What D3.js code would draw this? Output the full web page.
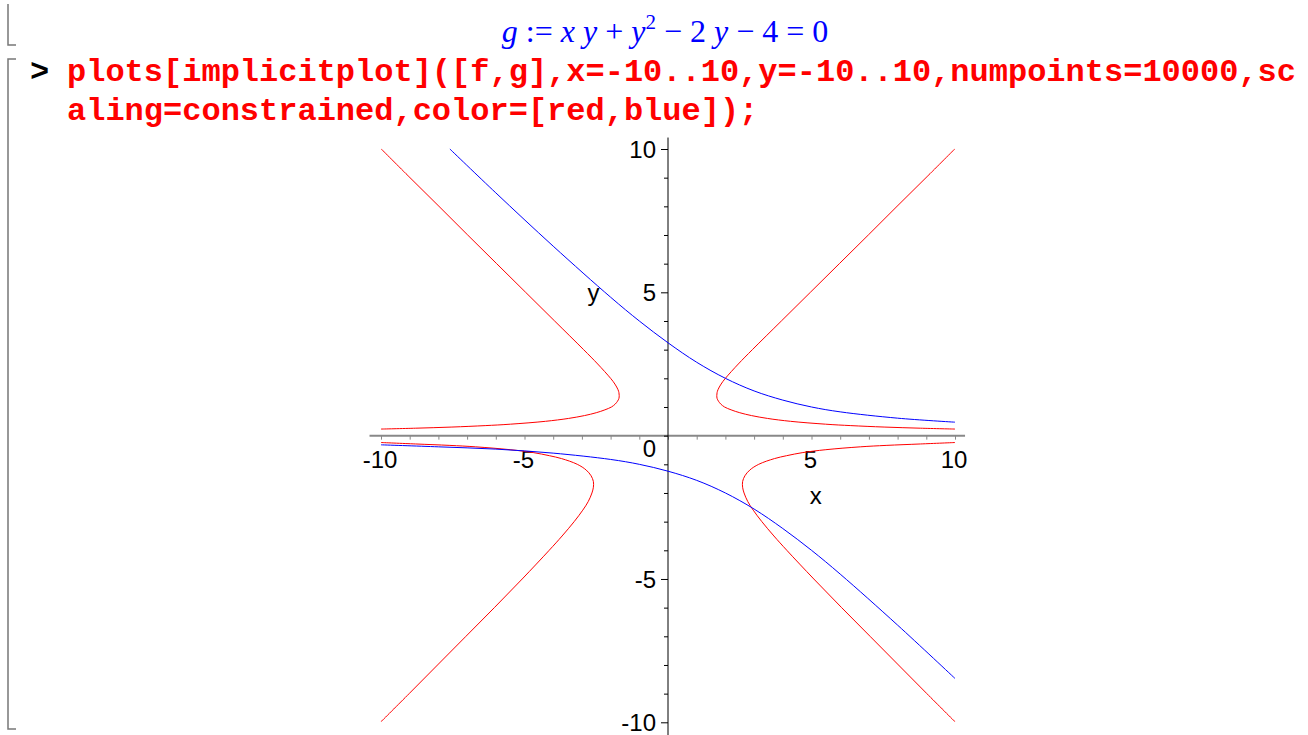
<!DOCTYPE html>
<html>
<head>
<meta charset="utf-8">
<script src="https://cdn.jsdelivr.net/npm/d3@7"></script>
<style>
  body { margin: 0; background: #fff; }
  svg { display: block; }
</style>
</head>
<body>
<svg width="1308" height="735"></svg>
<script>
// worksheet text
const eqParts = [
    {t:'g', it:true}, {t:' := '}, {t:'x', it:true}, {t:' '}, {t:'y', it:true}, {t:' + '},
    {t:'y', it:true}, {t:'2', sup:true}, {t:' \u2212 2 '}, {t:'y', it:true}, {t:' \u2212 4 = 0'}
];
const cmdLines = [
    'plots[implicitplot]([f,g],x=-10..10,y=-10..10,numpoints=10000,sc',
    'aling=constrained,color=[red,blue]);'
];

// tick labels
const xTickLabels = [-10, -5, 5, 10];
const yTickLabels = [-10, -5, 5, 10];
const minorTicks = d3.range(-10, 11);

// curves, [x, y]
const redUpperRight = [[10,0.23],[8.79,0.26],[7.53,0.3],[6.37,0.35],[5.49,0.4],[4.27,0.5],[3.47,0.6],[2.91,0.7],
    [2.5,0.8],[2.2,0.9],[1.97,1.0],[1.84,1.1],[1.76,1.2],[1.71,1.3],[1.7,1.4],[1.71,1.5],[1.74,1.6],[1.85,1.8],
    [2,2],[2.45,2.5],[2.94,3],[3.95,4],[4.96,5],[5.97,6],[6.98,7],[7.98,8],[8.99,9],[9.99,10]];
const redUpperLeft = [[-10,0.23],[-8.79,0.26],[-7.53,0.3],[-6.37,0.35],[-5.49,0.4],[-4.27,0.5],[-3.47,0.6],[-2.91,0.7],
    [-2.5,0.8],[-2.2,0.9],[-1.97,1.0],[-1.84,1.1],[-1.76,1.2],[-1.71,1.3],[-1.7,1.4],[-1.71,1.5],[-1.74,1.6],[-1.85,1.8],
    [-2,2],[-2.45,2.5],[-2.94,3],[-3.95,4],[-4.96,5],[-5.97,6],[-6.98,7],[-7.98,8],[-8.99,9],[-9.99,10]];
const redLowerRight = [[10,-0.24],[8.8,-0.29],[7.6,-0.34],[6.7,-0.39],[5.5,-0.49],[4.7,-0.59],[4.13,-0.7],[3.71,-0.8],
    [3.16,-1.0],[2.85,-1.2],[2.68,-1.4],[2.6,-1.6],[2.6,-1.8],[2.65,-2.0],[2.78,-2.3],[2.97,-2.6],[3.27,-3],
    [3.69,-3.5],[4.14,-4],[5.08,-5],[6.05,-6],[7.04,-7],[8.03,-8],[9.02,-9],[10,-9.98]];
const redLowerLeft = [[-10,-0.24],[-8.8,-0.29],[-7.6,-0.34],[-6.7,-0.39],[-5.5,-0.49],[-4.7,-0.59],[-4.13,-0.7],[-3.71,-0.8],
    [-3.16,-1.0],[-2.85,-1.2],[-2.68,-1.4],[-2.6,-1.6],[-2.6,-1.8],[-2.65,-2.0],[-2.78,-2.3],[-2.97,-2.6],[-3.27,-3],
    [-3.69,-3.5],[-4.14,-4],[-5.08,-5],[-6.05,-6],[-7.04,-7],[-8.03,-8],[-9.02,-9],[-10,-9.98]];
const blueUpper = [[-7.6,10],[-6,8.47],[-4,6.61],[-2,4.83],[-1,4],[0,3.24],[1,2.56],[2,2],[3,1.56],[4,1.24],
    [5,1],[6,0.83],[8,0.61],[10,0.47]];
const blueLower = [[-10,-0.32],[-8,-0.39],[-6,-0.47],[-4,-0.61],[-2,-0.83],[-1,-1],[0,-1.24],[1,-1.56],[2,-2],
    [3,-2.56],[4,-3.24],[5,-4],[6,-4.83],[8,-6.61],[10,-8.47]];

const svg = d3.select('svg');

//Worksheet brackets
const bracket = svg.append('g').attr('stroke', '#777').attr('stroke-width', 1.5).attr('fill', 'none');
bracket.append('path').attr('d', 'M8,4 V45 H16');
bracket.append('path').attr('d', 'M16,59 H8 V729 H16');

//Equation line (blue, Times)
const eq = svg.append('text')
    .attr('x', 665).attr('y', 42)
    .attr('text-anchor', 'middle')
    .attr('font-family', '"Liberation Serif", "Times New Roman", serif')
    .attr('font-size', 32)
    .attr('fill', '#0000ff')
    .style('white-space', 'pre');
eqParts.forEach(p => {
    const ts = eq.append('tspan').text(p.t);
    if (p.it) ts.attr('font-style', 'italic');
    if (p.sup) ts.attr('font-size', 21).attr('dy', -13);
    if (p.t.startsWith(' \u2212 2')) ts.attr('dy', 13);
});

//Command lines
const cmd = svg.append('g')
    .attr('font-family', '"Liberation Mono", "Courier New", monospace')
    .attr('font-weight', 'bold')
    .attr('font-size', 32);
cmd.append('text').attr('x', 30).attr('y', 81).attr('fill', '#000').text('>');
cmd.selectAll('text.cmd')
    .data(cmdLines)
    .join('text')
    .attr('class', 'cmd')
    .attr('x', 67)
    .attr('y', (d, i) => 81 + i * 39)
    .attr('fill', '#ff0000')
    .text(d => d);

//Scales (constrained: same units on both axes)
const xScale = d3.scaleLinear().domain([-10, 10]).range([381, 955]);
const yScale = d3.scaleLinear().domain([-10, 10]).range([722.3, 149]);

//Axes
const xAxisGroup = svg.append('g')
    .attr('transform', 'translate(0,' + yScale(0) + ')')
    .call(d3.axisBottom(xScale).tickValues(minorTicks).tickSize(4).tickFormat(''));
xAxisGroup.select('.domain').remove();
xAxisGroup.selectAll('line').attr('stroke', '#888');
xAxisGroup.append('line')
    .attr('x1', xScale(-10.4)).attr('x2', xScale(10.35))
    .attr('stroke', '#888').attr('stroke-width', 2);

const yAxisGroup = svg.append('g')
    .attr('transform', 'translate(' + xScale(0) + ',0)')
    .call(d3.axisLeft(yScale).tickValues(minorTicks).tickSize(4).tickFormat(''));
yAxisGroup.select('.domain').remove();
yAxisGroup.selectAll('.tick line')
    .attr('x2', d => (d % 5 === 0 && d !== 0) ? -7 : -4)
    .attr('stroke', '#000');
yAxisGroup.append('line')
    .attr('y1', yScale(10.4)).attr('y2', yScale(-10.6))
    .attr('stroke', '#000').attr('stroke-width', 1);

//Tick labels
const labels = svg.append('g')
    .attr('font-family', '"Liberation Sans", Arial, sans-serif')
    .attr('font-size', 24)
    .attr('fill', '#000');
labels.selectAll('text.xl')
    .data(xTickLabels)
    .join('text')
    .attr('class', 'xl')
    .attr('x', d => xScale(d) - 1)
    .attr('y', yScale(0) + 32)
    .attr('text-anchor', 'middle')
    .text(d => d < 0 ? '-' + Math.abs(d) : d);
labels.selectAll('text.yl')
    .data(yTickLabels)
    .join('text')
    .attr('class', 'yl')
    .attr('x', xScale(0) - 12)
    .attr('y', d => yScale(d) + 9)
    .attr('text-anchor', 'end')
    .text(d => d < 0 ? '-' + Math.abs(d) : d);
labels.append('text')
    .attr('x', xScale(0) - 12).attr('y', yScale(0) + 21)
    .attr('text-anchor', 'end')
    .text('0');
labels.append('text')
    .attr('x', xScale(5.15)).attr('y', yScale(-2.4))
    .attr('text-anchor', 'middle')
    .text('x');
labels.append('text')
    .attr('x', xScale(-2.6)).attr('y', yScale(4.7))
    .attr('text-anchor', 'middle')
    .text('y');

//Curves
const line = d3.line()
    .x(d => xScale(d[0]))
    .y(d => yScale(d[1]))
    .curve(d3.curveCatmullRom);
const curves = [
    {pts: redUpperRight, color: '#ff0000'},
    {pts: redUpperLeft, color: '#ff0000'},
    {pts: redLowerRight, color: '#ff0000'},
    {pts: redLowerLeft, color: '#ff0000'},
    {pts: blueUpper, color: '#0000ff'},
    {pts: blueLower, color: '#0000ff'}
];
svg.append('g').selectAll('path')
    .data(curves)
    .join('path')
    .attr('d', d => line(d.pts))
    .attr('fill', 'none')
    .attr('stroke', d => d.color)
    .attr('stroke-width', 1);
</script>
</body>
</html>
